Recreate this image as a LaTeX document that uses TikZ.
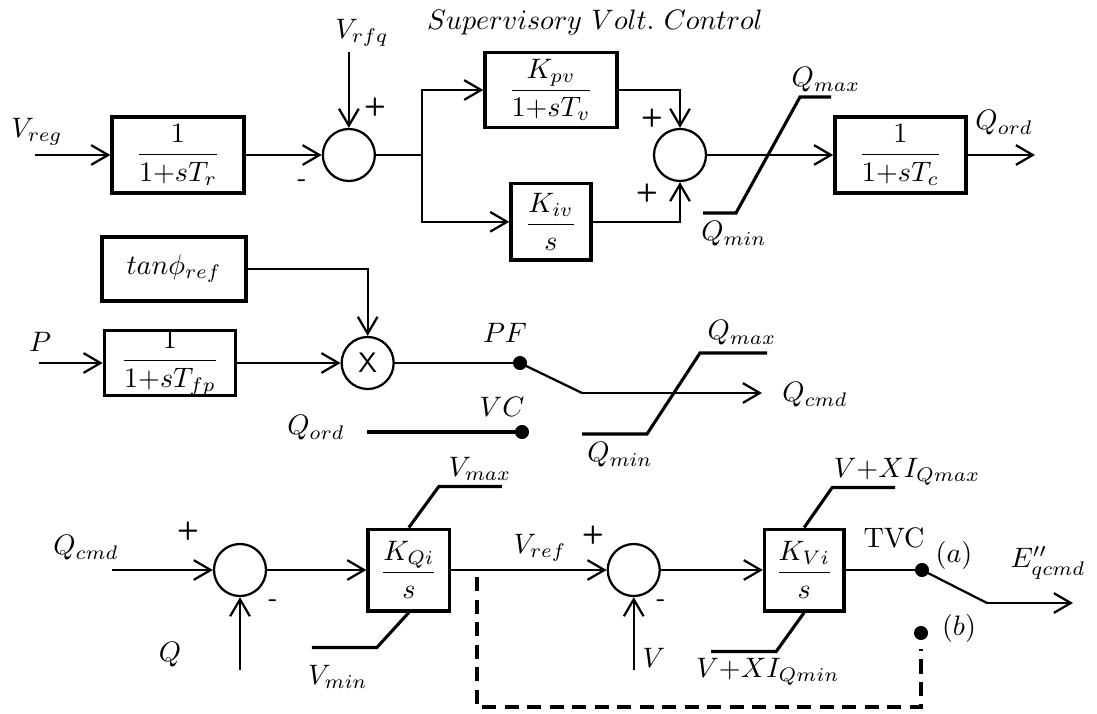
\documentclass[tikz,border=0pt]{standalone}
\usepackage{amsmath}
\usetikzlibrary{positioning,arrows.meta,calc}

\begin{document}
\begin{tikzpicture}[
  x=0.0125cm, y=-0.0125cm,
  font=\fontsize{10}{12}\selectfont,
  block/.style={draw, line width=1.2pt, inner sep=0pt,
                minimum width=1.65cm, minimum height=0.95cm},
  sumj/.style={draw, circle, line width=0.8pt, minimum size=0.65cm, inner sep=0pt},
  sig/.style={line width=0.8pt, -{Straight Barb[length=6pt,width=7pt]}},
  wire/.style={line width=0.8pt},
  lim/.style={line width=1.1pt},
  tap/.style={circle, fill, minimum size=5pt, inner sep=0pt},
  sgn/.style={font=\sffamily\bfseries\fontsize{9}{10}\selectfont},
  fb/.style={line width=1.1pt, dash pattern=on 5pt off 3pt}
]
  \useasboundingbox (0,0) rectangle (1097,714);

  % Title
  \node (title) at (595,22) {$Supervisory\ Volt.\ Control$};

  % Top row: voltage regulation
  \node[block] (lag1) at (178,155) {$\dfrac{1}{1{+}sT_r}$};
  \node[sumj, right=0.95cm of lag1] (sum1) {};
  \node[block, minimum height=0.94cm] (kpv) at (551,90) {$\dfrac{K_{pv}}{1{+}sT_v}$};
  \node[block, minimum width=1cm, below=0.66cm of kpv] (kiv) {$\dfrac{K_{iv}}{s}$};
  \node[sumj] (sum2) at (680,155) {};
  \node[block, minimum width=1.64cm, right=1.575cm of sum2] (lagc) {$\dfrac{1}{1{+}sT_c}$};

  \coordinate (vreg) at (35,155);
  \coordinate[above=0.95cm of sum1] (vrfq);
  \coordinate (split) at (422,155);
  \coordinate (qord) at (1035,155);

  \node (lVreg) at (37,132) {$V_{reg}$};
  \node (lVrfq) at (362,33) {$V_{rfq}$};
  \node[sgn] (p1) at (375,107) {+};
  \node[sgn] (m1) at (302,183) {-};
  \node[sgn] (p2) at (652,118) {+};
  \node[sgn] (p3) at (647,193) {+};
  \node (lQmax1) at (826,80) {$Q_{max}$};
  \node (lQmin1) at (734,234) {$Q_{min}$};
  \node (lQord1) at (1004,123) {$Q_{ord}$};

  \draw[sig] (vreg) -- (lag1);
  \draw[sig] (lag1) -- (sum1);
  \draw[sig] (vrfq) -- (sum1);
  \draw[wire] (sum1) -- (split);
  \draw[sig] (split) |- (kpv);
  \draw[sig] (split) |- (kiv);
  \draw[sig] (kpv) -| (sum2);
  \draw[sig] (kiv) -| (sum2);
  \draw[sig] (sum2) -- (lagc);
  \draw[sig] (lagc) -- (qord);
  \draw[lim] (703,213) -- (736,213) -- (800,97) -- (831,97);

  % Middle row: power factor / voltage control selector
  \node[block, minimum width=1.8cm, minimum height=0.8cm] (tanref) at (174,269) {$tan\phi_{ref}$};
  \node[block, minimum width=1.64cm, minimum height=0.81cm] (lagfp) at (170,363) {$\dfrac{1}{1{+}sT_{fp}}$};
  \node[sumj, right=1.29cm of lagfp] (mult) {\sffamily X};
  \node[tap] (pf) at (520,363) {};
  \node[tap] (vc) at (522,432) {};

  \coordinate (pin) at (39,363);
  \coordinate (qordin) at (367,432);
  \coordinate (sw1) at (582,393);
  \coordinate (qcmd) at (762,393);

  \node (lP) at (40,342) {$P$};
  \node (lPF) at (505,333) {$PF$};
  \node (lVC) at (502,407) {$VC$};
  \node (lQord2) at (316,428) {$Q_{ord}$};
  \node (lQmax2) at (742,333) {$Q_{max}$};
  \node (lQcmd1) at (815,395) {$Q_{cmd}$};
  \node (lQmin2) at (620,455) {$Q_{min}$};

  \draw[sig] (tanref) -| (mult);
  \draw[sig] (pin) -- (lagfp);
  \draw[sig] (lagfp) -- (mult);
  \draw[wire] (mult) -- (pf.center);
  \draw[wire] (pf.center) -- (sw1);
  \draw[sig] (sw1) -- (qcmd);
  \draw[lim] (qordin) -- (vc.center);
  \draw[lim] (582,434) -- (647,434) -- (700,353) -- (767,353);

  % Bottom row: reactive power and terminal voltage loops
  \node[sumj] (sum3) at (240,570) {};
  \node[block, minimum width=1.02cm, minimum height=1.02cm, right=1.24cm of sum3] (kqi) {$\dfrac{K_{Qi}}{s}$};
  \node[sumj, right=1.94cm of kqi] (sum4) {};
  \node[block, minimum width=0.99cm, minimum height=1.02cm, right=1.275cm of sum4] (kvi) {$\dfrac{K_{Vi}}{s}$};
  \node[tap] (tapa) at (922,570) {};
  \node[tap] (tapb) at (921,633) {};

  \coordinate (qcmdin) at (112,570);
  \coordinate[below=0.91cm of sum3] (qin);
  \coordinate[below=0.91cm of sum4] (vin);
  \coordinate (sw2) at (987,603);
  \coordinate (eq) at (1073,603);
  \coordinate (fb1) at (477,577);

  \node (lQcmd2) at (86,548) {$Q_{cmd}$};
  \node[sgn] (p4) at (188,531) {+};
  \node[sgn] (m4) at (273,603) {-};
  \node (lQ) at (170,655) {$Q$};
  \node (lVmax) at (480,469) {$V_{max}$};
  \node (lVmin) at (338,677) {$V_{min}$};
  \node (lVref) at (540,548) {$V_{ref}$};
  \node[sgn] (p5) at (593,535) {+};
  \node[sgn] (m5) at (661,603) {-};
  \node (lV) at (654,658) {$V$};
  \node (lIqmax) at (907,472) {$V{+}XI_{Qmax}$};
  \node (lIqmin) at (768,672) {$V{+}XI_{Qmin}$};
  \node (lTVC) at (894,538) {TVC};
  \node (la) at (954,555) {$(a)$};
  \node (lEq) at (1048,563) {$E''_{qcmd}$};
  \node (lb) at (959,628) {$(b)$};

  \draw[sig] (qcmdin) -- (sum3);
  \draw[sig] (qin) -- (sum3);
  \draw[sig] (sum3) -- (kqi);
  \draw[sig] (kqi) -- (sum4);
  \draw[sig] (vin) -- (sum4);
  \draw[sig] (sum4) -- (kvi);
  \draw[wire] (kvi) -- (tapa.center);
  \draw[wire] (tapa.center) -- (sw2);
  \draw[sig] (sw2) -- (eq);
  \draw[fb] (fb1) -- (477,707) -| ([yshift=-0.1cm]tapb.south);

  % limiters
  \draw[lim] (kqi.north) -- ++(30,-41) -- ++(63,0);
  \draw[lim] (kqi.south) -- ++(-32,35) -- ++(-65,0);
  \draw[lim] (kvi.north) -- ++(28,-40) -- ++(63,0);
  \draw[lim] (kvi.south) -- ++(-28,39) -- ++(-65,0);
\end{tikzpicture}
\end{document}
